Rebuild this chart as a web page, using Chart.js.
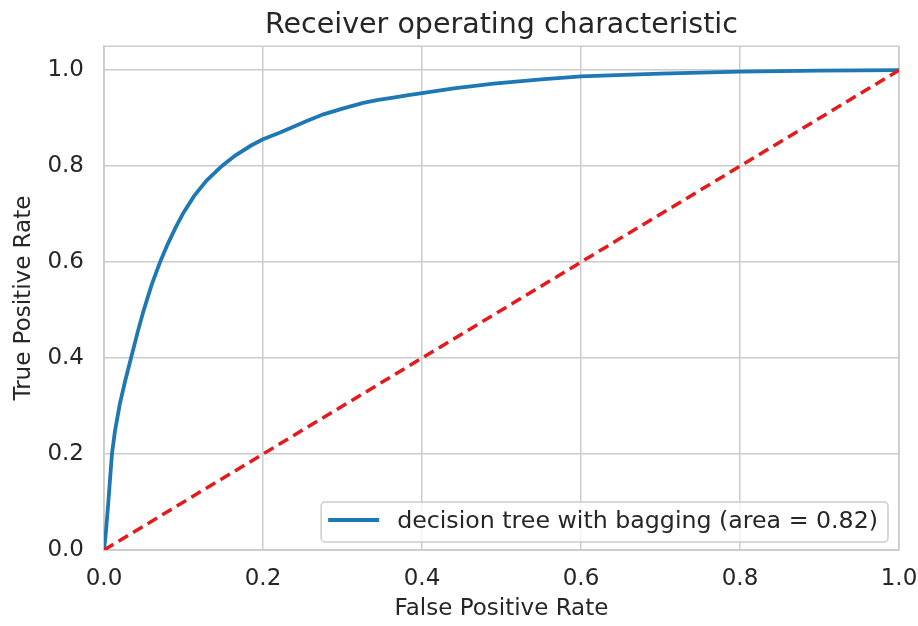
<!DOCTYPE html>
<html>
<head>
<meta charset="utf-8">
<script src="https://cdn.jsdelivr.net/npm/chart.js@4.4.1/dist/chart.umd.min.js"></script>
<style>
  html, body { margin: 0; padding: 0; background: #ffffff; }
  #wrap { width: 918px; height: 626px; }
</style>
</head>
<body>
<div id="wrap"><canvas id="c" width="918" height="626"></canvas></div>
<script>
// ---- data ----
const fpr = [0, 0.002, 0.005, 0.0075, 0.01, 0.014, 0.02, 0.027, 0.034, 0.042, 0.05, 0.06, 0.0705,
             0.08, 0.09, 0.1, 0.113, 0.129, 0.148, 0.165, 0.185, 0.2, 0.22, 0.234, 0.255, 0.276,
             0.3, 0.326, 0.345, 0.364, 0.383, 0.4, 0.44, 0.49, 0.55, 0.6, 0.7, 0.8, 0.9, 1.0];
const tpr = [0, 0.03, 0.09, 0.145, 0.20, 0.25, 0.305, 0.355, 0.40, 0.452, 0.50, 0.553, 0.60,
             0.637, 0.672, 0.703, 0.737, 0.770, 0.80, 0.822, 0.843, 0.856, 0.869, 0.879, 0.894, 0.908,
             0.92, 0.932, 0.938, 0.943, 0.948, 0.952, 0.962, 0.972, 0.981, 0.987, 0.993, 0.997, 0.999, 1.0];
const diagX = [0, 1];
const diagY = [0, 1];
const xTicks = [0, 0.2, 0.4, 0.6, 0.8, 1.0];
const yTicks = [0, 0.2, 0.4, 0.6, 0.8, 1.0];
const curveLabel = 'decision tree with bagging (area = 0.82)';
const titleText = 'Receiver operating characteristic';
const xLabel = 'False Positive Rate';
const yLabel = 'True Positive Rate';

const FONT = '"DejaVu Sans", sans-serif';
const TEXT = '#262626';
const GRID = '#cccccc';

const curvePts = fpr.map((x, i) => ({ x: x, y: tpr[i] }));
const diagPts = diagX.map((x, i) => ({ x: x, y: diagY[i] }));

const frame = {
  id: 'frame',
  beforeDatasetsDraw(chart) {
    const a = chart.chartArea, ctx = chart.ctx;
    ctx.save();
    ctx.strokeStyle = GRID;
    ctx.lineWidth = 1.5;
    ctx.strokeRect(a.left, a.top, a.right - a.left, a.bottom - a.top);
    ctx.restore();
  }
};

const insideLegend = {
  id: 'insideLegend',
  afterDraw(chart) {
    const ds = chart.data.datasets.find(d => d.label);
    if (!ds) return;
    const ctx = chart.ctx, a = chart.chartArea;
    ctx.save();
    ctx.font = '23.7px ' + FONT;
    const tw = ctx.measureText(ds.label).width;
    const padL = 7, lineLen = 51, gap = 18, padR = 10, h = 40;
    const w = padL + lineLen + gap + tw + padR;
    const x = a.right - 11 - w, y = a.bottom - 8 - h;
    ctx.beginPath();
    ctx.roundRect(x, y, w, h, 4);
    ctx.fillStyle = 'rgba(255,255,255,0.8)';
    ctx.fill();
    ctx.strokeStyle = GRID;
    ctx.lineWidth = 1.5;
    ctx.stroke();
    const cy = y + h / 2;
    ctx.beginPath();
    ctx.moveTo(x + padL, cy - 2);
    ctx.lineTo(x + padL + lineLen, cy - 2);
    ctx.strokeStyle = ds.borderColor;
    ctx.lineWidth = ds.borderWidth;
    ctx.stroke();
    ctx.fillStyle = TEXT;
    ctx.textBaseline = 'middle';
    ctx.textAlign = 'left';
    ctx.fillText(ds.label, x + padL + lineLen + gap, cy);
    ctx.restore();
  }
};

new Chart(document.getElementById('c'), {
  type: 'scatter',
  data: {
    datasets: [
      {
        data: diagPts,
        showLine: true,
        borderColor: '#e41a1c',
        borderWidth: 3.5,
        borderDash: [11, 6],
        pointRadius: 0,
        fill: false,
        order: 1
      },
      {
        label: curveLabel,
        data: curvePts,
        showLine: true,
        borderColor: '#1f77b4',
        borderWidth: 3.8,
        pointRadius: 0,
        tension: 0,
        fill: false,
        order: 2
      }
    ]
  },
  options: {
    responsive: false,
    devicePixelRatio: 1,
    animation: false,
    layout: { padding: { left: 0, right: 19, top: 0, bottom: 0 } },
    plugins: {
      legend: { display: false },
      tooltip: { enabled: false },
      title: {
        display: true,
        text: titleText,
        fullSize: false,
        color: TEXT,
        font: { family: FONT, size: 28.5, weight: 'normal' },
        padding: { top: 8, bottom: 4 }
      }
    },
    scales: {
      x: {
        type: 'linear',
        min: 0,
        max: 1,
        afterBuildTicks: s => { s.ticks = xTicks.map(v => ({ value: v })); },
        afterFit: s => { s.height = 76; s.paddingRight = 0; s.paddingLeft = 0; },
        grid: { color: GRID, lineWidth: 1.5, drawTicks: false },
        border: { color: GRID, width: 1.5 },
        ticks: {
          color: TEXT,
          padding: 15,
          font: { family: FONT, size: 23 },
          callback: v => Number(v).toFixed(1)
        },
        title: {
          display: true,
          text: xLabel,
          color: TEXT,
          font: { family: FONT, size: 23 },
          padding: { top: 0, bottom: 3 }
        }
      },
      y: {
        type: 'linear',
        min: 0,
        max: 1.05,
        afterBuildTicks: s => { s.ticks = yTicks.map(v => ({ value: v })); },
        afterFit: s => { s.width = 104; },
        grid: { color: GRID, lineWidth: 1.5, drawTicks: false },
        border: { color: GRID, width: 1.5 },
        ticks: {
          color: TEXT,
          padding: 20,
          font: { family: FONT, size: 23 },
          callback: v => Number(v).toFixed(1)
        },
        title: {
          display: true,
          text: yLabel,
          color: TEXT,
          font: { family: FONT, size: 23 },
          padding: { top: 10, bottom: 0 }
        }
      }
    }
  },
  plugins: [frame, insideLegend]
});
</script>
</body>
</html>
